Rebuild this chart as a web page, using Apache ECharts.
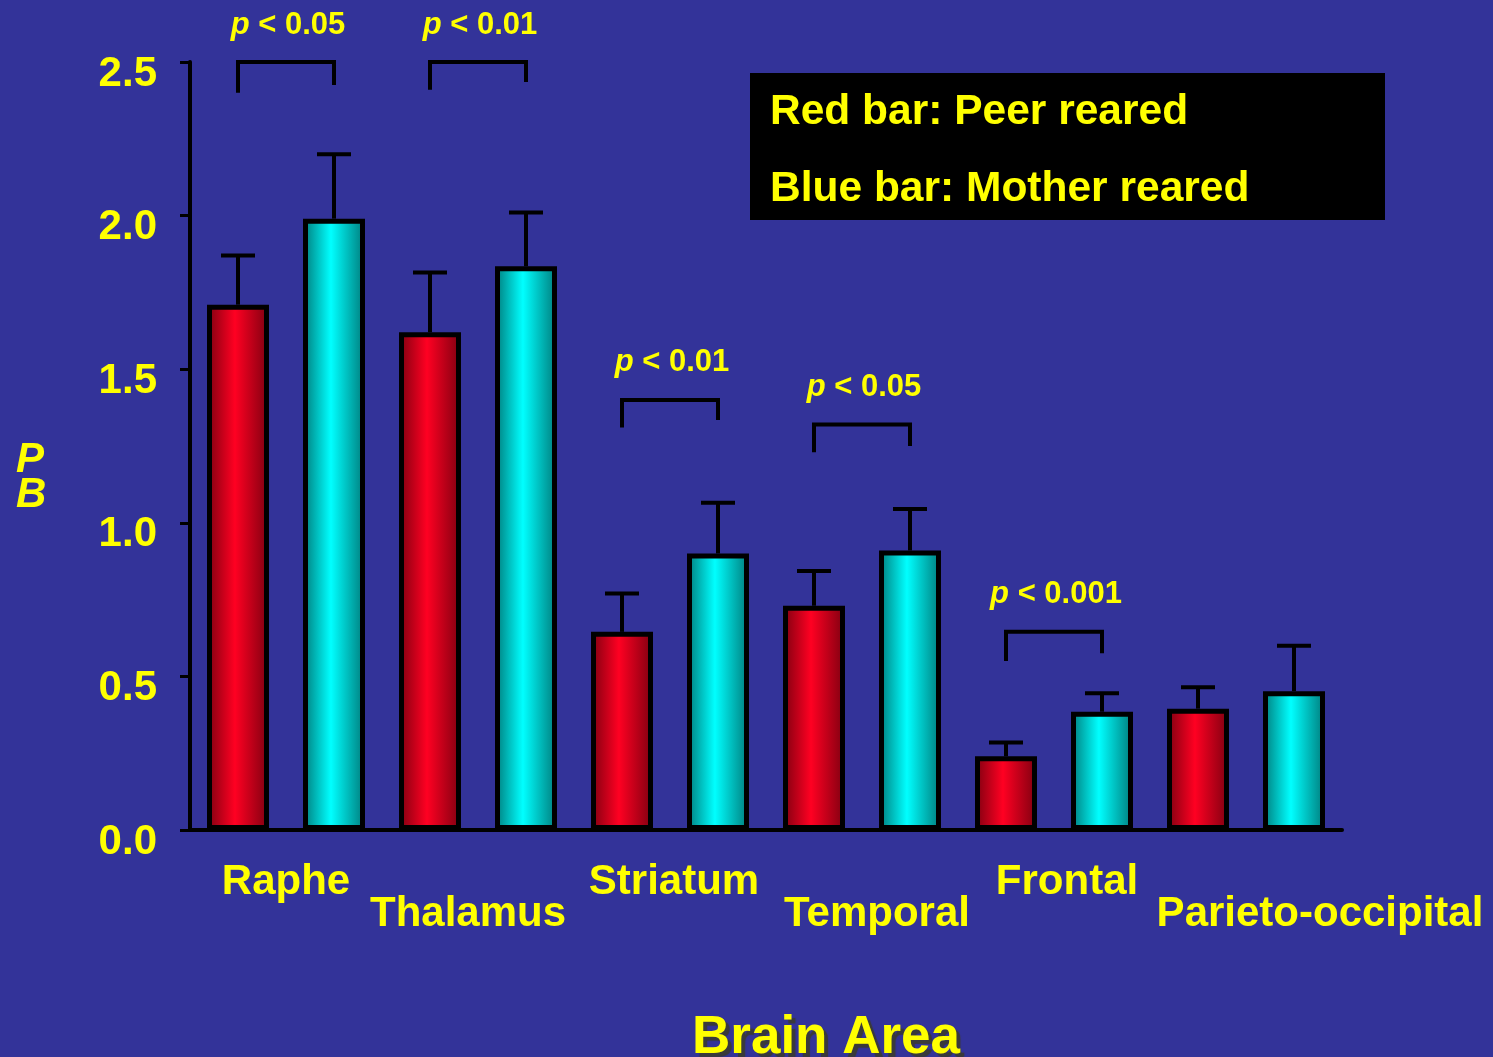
<!DOCTYPE html>
<html>
<head>
<meta charset="utf-8">
<script src="https://cdn.jsdelivr.net/npm/echarts@6/dist/echarts.min.js"></script>
<style>
  html, body { margin: 0; padding: 0; background: #333399; }
  #main { width: 1493px; height: 1057px; }
</style>
</head>
<body>
<div id="main"></div>
<script>
// brain areas and binding potential values
const categories = ['Raphe', 'Thalamus', 'Striatum', 'Temporal', 'Frontal', 'Parieto-occipital'];
const peerReared = [1.71, 1.62, 0.645, 0.73, 0.24, 0.395];
const peerUpper = [1.87, 1.815, 0.77, 0.843, 0.285, 0.465];
const motherReared = [1.99, 1.835, 0.90, 0.91, 0.385, 0.452];
const motherUpper = [2.20, 2.01, 1.065, 1.045, 0.445, 0.60];

// significance brackets (group index, p label, bracket top, left leg end, right leg end)
const sigGroups = [0, 1, 2, 3, 4];
const sigLabels = ['< 0.05', '< 0.01', '< 0.01', '< 0.05', '< 0.001'];
const sigTop = [2.50, 2.50, 1.40, 1.32, 0.645];
const sigLeftEnd = [2.40, 2.41, 1.31, 1.23, 0.55];
const sigRightEnd = [2.425, 2.435, 1.335, 1.25, 0.575];

// layout only: horizontal nudge and row for the staggered area names
const labelShift = [0, -10, 4, 15, 13, 74];
const labelRow = [0, 1, 0, 1, 0, 1];

const YEL = '#ffff00';
const FONT = 'Liberation Sans, Arial, sans-serif';

let slots = [];
let peerData = [];
let motherData = [];
let errData = [];
categories.forEach((c, i) => {
  slots.push(c + ' peer', c + ' mother');
  peerData.push(peerReared[i], '-');
  motherData.push('-', motherReared[i]);
  errData.push([2 * i, peerReared[i], peerUpper[i]]);
  errData.push([2 * i + 1, motherReared[i], motherUpper[i]]);
});

const sigData = sigGroups.map((g, k) => [2 * g, 2 * g + 1, sigTop[k], sigLeftEnd[k], sigRightEnd[k]]);
const nameData = categories.map((c, i) => [2 * i, 2 * i + 1]);

function grad(edge, mid) {
  return new echarts.graphic.LinearGradient(0, 0, 1, 0, [
    { offset: 0, color: edge },
    { offset: 0.45, color: mid },
    { offset: 1, color: edge }
  ]);
}

let option = {
  backgroundColor: '#333399',
  animation: false,
  grid: { left: 190, right: 151, top: 62, bottom: 227 },
  xAxis: {
    type: 'category',
    data: slots,
    axisLine: { lineStyle: { color: '#000', width: 4 } },
    axisTick: { show: false },
    axisLabel: { show: false }
  },
  yAxis: {
    type: 'value',
    min: 0,
    max: 2.5,
    interval: 0.5,
    splitLine: { show: false },
    axisLine: { show: true, lineStyle: { color: '#000', width: 4 } },
    axisTick: { show: true, length: 10, lineStyle: { color: '#000', width: 3 } },
    axisLabel: {
      color: YEL, fontSize: 42, fontWeight: 'bold', fontFamily: FONT,
      margin: 33, verticalAlign: 'top', lineHeight: 24,
      formatter: v => v.toFixed(1)
    }
  },
  series: [
    {
      name: 'Peer reared',
      type: 'bar',
      data: peerData,
      barWidth: 62,
      barGap: '-100%',
      itemStyle: { color: grad('#7d0010', '#ff0022'), borderColor: '#000', borderWidth: 5 }
    },
    {
      name: 'Mother reared',
      type: 'bar',
      data: motherData,
      barWidth: 62,
      barGap: '-100%',
      itemStyle: { color: grad('#007a7a', '#00ffff'), borderColor: '#000', borderWidth: 5 }
    },
    {
      // error bars
      type: 'custom',
      data: errData,
      z: 3,
      renderItem: function (params, api) {
        const base = api.coord([api.value(0), api.value(1)]);
        const top = api.coord([api.value(0), api.value(2)]);
        const stroke = { stroke: '#000', lineWidth: 4 };
        return {
          type: 'group',
          children: [
            { type: 'line', shape: { x1: top[0], y1: base[1], x2: top[0], y2: top[1] }, style: stroke },
            { type: 'line', shape: { x1: top[0] - 17, y1: top[1], x2: top[0] + 17, y2: top[1] }, style: stroke }
          ]
        };
      }
    },
    {
      // significance brackets
      type: 'custom',
      data: sigData,
      z: 3,
      renderItem: function (params, api) {
        const tl = api.coord([api.value(0), api.value(2)]);
        const tr = api.coord([api.value(1), api.value(2)]);
        const bl = api.coord([api.value(0), api.value(3)]);
        const br = api.coord([api.value(1), api.value(4)]);
        return {
          type: 'group',
          children: [
            {
              type: 'polyline',
              shape: { points: [bl, tl, tr, br] },
              style: { stroke: '#000', lineWidth: 4, fill: null }
            },
            {
              type: 'text',
              style: {
                x: (tl[0] + tr[0]) / 2 + 2,
                y: tl[1] - 37,
                text: '{i|p} ' + sigLabels[params.dataIndex],
                align: 'center',
                verticalAlign: 'middle',
                fill: YEL,
                fontSize: 31,
                fontWeight: 'bold',
                fontFamily: FONT,
                rich: { i: { fontStyle: 'italic', fontWeight: 'bold', fontSize: 31, fontFamily: FONT, fill: YEL } }
              }
            }
          ]
        };
      }
    },
    {
      // area names under the axis
      type: 'custom',
      data: nameData,
      z: 3,
      renderItem: function (params, api) {
        const i = params.dataIndex;
        const a = api.coord([api.value(0), 0]);
        const b = api.coord([api.value(1), 0]);
        return {
          type: 'text',
          style: {
            x: (a[0] + b[0]) / 2 + labelShift[i],
            y: a[1] + (labelRow[i] ? 84 : 52),
            text: categories[i],
            align: 'center',
            verticalAlign: 'middle',
            fill: YEL,
            fontSize: 42,
            fontWeight: 'bold',
            fontFamily: FONT
          }
        };
      }
    }
  ],
  graphic: [
    {
      type: 'rect', left: 750, top: 73,
      shape: { width: 635, height: 147 },
      style: { fill: '#000' }
    },
    {
      type: 'text', left: 770, top: 91,
      style: { text: 'Red bar: Peer reared', fill: YEL, font: 'bold 42.5px ' + FONT }
    },
    {
      type: 'text', left: 770, top: 168,
      style: { text: 'Blue bar: Mother reared', fill: YEL, font: 'bold 42.5px ' + FONT }
    },
    {
      type: 'text', left: 16, top: 439,
      style: { text: 'P', fill: YEL, font: 'italic bold 42px ' + FONT }
    },
    {
      type: 'text', left: 16, top: 474,
      style: { text: 'B', fill: YEL, font: 'italic bold 42px ' + FONT }
    },
    {
      type: 'text', left: 692, top: 1012,
      style: {
        text: 'Brain Area', fill: YEL, font: 'bold 53px ' + FONT,
        textShadowColor: '#3a3a3a', textShadowOffsetX: 4, textShadowOffsetY: 4, textShadowBlur: 1
      }
    }
  ]
};

let myChart = echarts.init(document.getElementById('main'));
myChart.setOption(option);
</script>
</body>
</html>
